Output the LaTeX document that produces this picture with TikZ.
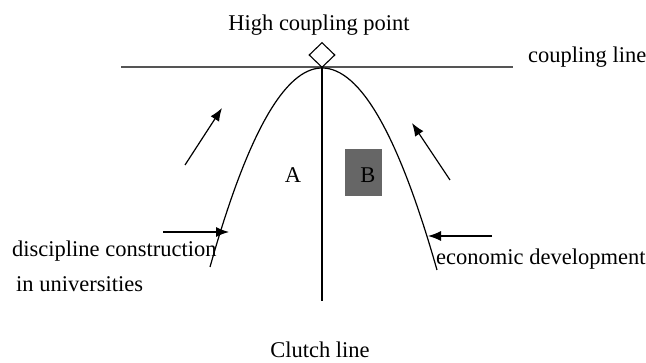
\documentclass[tikz,border=0pt]{standalone}
\usepackage{fontspec}
\setmainfont{Liberation Serif}
\usetikzlibrary{arrows.meta,shapes.geometric}
\definecolor{axisgray}{RGB}{85,85,85}
\definecolor{boxgray}{RGB}{102,102,102}
\begin{document}
\begin{tikzpicture}[x=1pt,y=-1pt,
  lbl/.style={font=\fontsize{22.5}{26}\selectfont,inner sep=0pt},
  curveline/.style={line width=1.2pt,black},
  arrowline/.style={line width=1.2pt,black,-{Latex[length=13pt,width=10pt]}}]
\useasboundingbox (0,0) rectangle (646,363);
% coordinates
\coordinate (apex) at (322,68);
\coordinate (cl) at (121,67);
\coordinate (cr) at (513,67);
\coordinate (vb) at (322,301);
\coordinate (lend) at (210,267);
\coordinate (rend) at (437,270);
\coordinate (a1s) at (185,165); \coordinate (a1e) at (222,108);
\coordinate (a2s) at (163,232); \coordinate (a2e) at (229,232);
\coordinate (a3s) at (450,180); \coordinate (a3e) at (412,123);
\coordinate (a4s) at (492,236); \coordinate (a4e) at (428,236);
% coupling line
\draw[axisgray,line width=1.6pt] (cl) -- (cr);
% clutch (vertical) line
\draw[black,line width=1.8pt] (apex) -- (vb);
% curve
\draw[curveline] (lend) .. controls (247.3,134.3) and (284.7,68) .. (apex)
  .. controls (360.3,68) and (398.7,135.3) .. (rend);
% diamond
\node[diamond,draw,line width=1.1pt,minimum width=26pt,minimum height=25pt,inner sep=0pt] (dia) at (322,55) {};
% box B
\node[fill=boxgray,minimum width=37pt,minimum height=47pt,inner sep=0pt] (boxB) at (363.5,172.5) {};
% arrows
\draw[arrowline] (a1s) -- (a1e);
\draw[arrowline] (a2s) -- (a2e);
\draw[arrowline] (a3s) -- (a3e);
\draw[arrowline] (a4s) -- (a4e);
% labels
\node[lbl,anchor=base] (hcp) at (319,31) {High coupling point};
\node[lbl,anchor=base west] (cpl) at (528,63) {coupling line};
\node[lbl,anchor=base] (la) at (293,183) {A};
\node[lbl,anchor=base] (lb) at (368,183) {B};
\node[lbl,anchor=base west] (dc) at (12,257) {discipline construction};
\node[lbl,anchor=base west] (iu) at (16,292) {in universities};
\node[lbl,anchor=base west] (ed) at (436,265) {economic development};
\node[lbl,anchor=base] (clu) at (320,358) {Clutch line};
\end{tikzpicture}
\end{document}
